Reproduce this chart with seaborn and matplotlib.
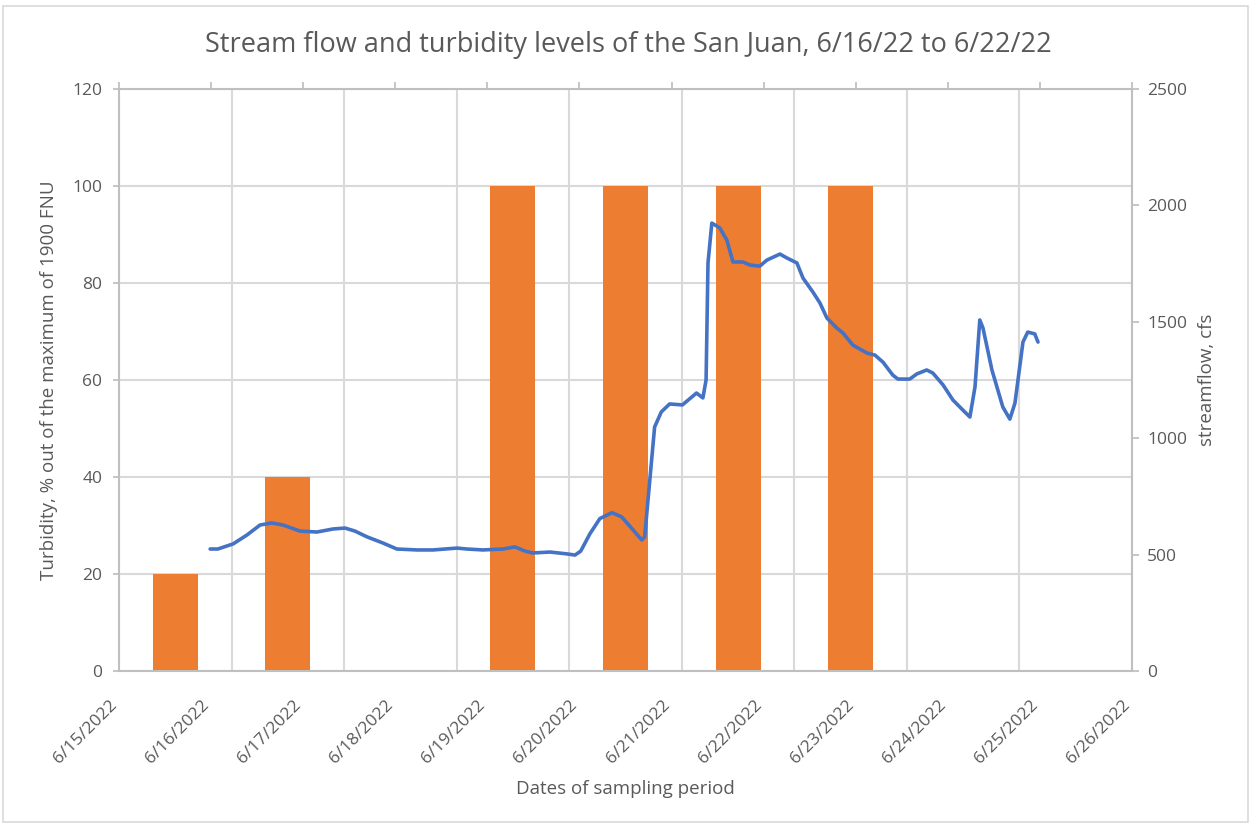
import matplotlib
matplotlib.use("Agg")
import matplotlib.pyplot as plt
import matplotlib.dates as mdates
from matplotlib.patches import Rectangle
from matplotlib.ticker import FuncFormatter, MultipleLocator
from matplotlib.transforms import ScaledTranslation
import pandas as pd
import seaborn as sns

# turbidity samples (% of max 1900 FNU), one bar per category slot
sample_days = ["6/16", "6/17", "6/18", "6/19", "6/20", "6/21", "6/22", "6/23", "6/24"]
turbidity = [20, 40, 0, 100, 100, 100, 100, 0, 0]

# streamflow readings
flow_times = [
    "2022-06-15 23:45", "2022-06-16 01:45", "2022-06-16 05:45", "2022-06-16 09:20",
    "2022-06-16 12:45", "2022-06-16 15:50", "2022-06-16 18:45", "2022-06-16 23:10",
    "2022-06-17 03:35", "2022-06-17 07:45", "2022-06-17 10:55", "2022-06-17 13:30",
    "2022-06-17 16:40", "2022-06-17 20:45", "2022-06-18 00:25", "2022-06-18 05:40",
    "2022-06-18 09:50", "2022-06-18 16:05", "2022-06-18 18:40", "2022-06-18 22:50",
    "2022-06-19 04:05", "2022-06-19 07:10", "2022-06-19 09:50", "2022-06-19 11:50",
    "2022-06-19 16:20", "2022-06-19 20:45", "2022-06-19 22:50", "2022-06-20 00:20",
    "2022-06-20 02:45", "2022-06-20 05:20", "2022-06-20 08:30", "2022-06-20 11:00",
    "2022-06-20 16:15", "2022-06-20 17:00", "2022-06-20 18:20", "2022-06-20 19:35",
    "2022-06-20 21:20", "2022-06-20 23:30", "2022-06-21 02:50", "2022-06-21 06:30",
    "2022-06-21 08:10", "2022-06-21 09:00", "2022-06-21 09:30", "2022-06-21 10:30",
    "2022-06-21 12:35", "2022-06-21 14:25", "2022-06-21 16:00", "2022-06-21 18:35",
    "2022-06-21 20:25", "2022-06-21 23:00", "2022-06-22 00:50", "2022-06-22 04:15",
    "2022-06-22 06:05", "2022-06-22 08:40", "2022-06-22 10:15", "2022-06-22 12:50",
    "2022-06-22 14:40", "2022-06-22 16:30", "2022-06-22 19:05", "2022-06-22 20:40",
    "2022-06-22 23:15", "2022-06-23 02:55", "2022-06-23 05:00", "2022-06-23 07:05",
    "2022-06-23 09:40", "2022-06-23 11:00", "2022-06-23 14:05", "2022-06-23 15:55",
    "2022-06-23 18:30", "2022-06-23 20:05", "2022-06-23 22:45", "2022-06-24 01:20",
    "2022-06-24 03:55", "2022-06-24 05:45", "2022-06-24 07:05", "2022-06-24 08:20",
    "2022-06-24 09:10", "2022-06-24 11:30", "2022-06-24 14:20", "2022-06-24 16:10",
    "2022-06-24 17:30", "2022-06-24 19:35", "2022-06-24 20:50", "2022-06-24 22:40",
    "2022-06-24 23:30",
]
streamflow = [
    524, 524, 546, 584,
    627, 636, 627, 601,
    597, 610, 614, 601,
    576, 550, 524, 520,
    520, 528, 524, 520,
    524, 533, 515, 507,
    511, 503, 498, 515,
    590, 655, 680, 662,
    563, 576, 820, 1048,
    1113, 1147, 1143, 1194,
    1173, 1250, 1753, 1924,
    1903, 1851, 1757, 1757,
    1744, 1739, 1765, 1791,
    1774, 1753, 1688, 1628,
    1581, 1516, 1473, 1452,
    1400, 1366, 1357, 1327,
    1271, 1254, 1254, 1276,
    1293, 1280, 1229, 1164,
    1121, 1091, 1220, 1508,
    1473, 1293, 1134, 1082,
    1151, 1413, 1456, 1448,
    1413,
]

GREY_TXT = "#595959"
GRID = "#D9D9D9"
SPINE = "#BFBFBF"

sns.set_theme(style="white")
plt.rcParams["font.family"] = ["Open Sans", "DejaVu Sans"]

bars = pd.DataFrame({"day": sample_days, "turbidity": turbidity})
flow = pd.DataFrame({"time": pd.to_datetime(flow_times), "cfs": streamflow})

fig = plt.figure(figsize=(12.51, 8.25), dpi=100)
rect = [119 / 1251, 1 - 671 / 825, (1132 - 119) / 1251, (671 - 89) / 825]

# --- bars on a category axis (primary, left) ---
ax = fig.add_axes(rect)
sns.barplot(data=bars, x="day", y="turbidity", order=sample_days, color="#ED7D31",
            saturation=1, width=0.4, linewidth=0, ax=ax, zorder=2)
ax.set_xlim(-0.5, len(sample_days) - 0.5)
ax.set_ylim(0, 120)
ax.yaxis.set_major_locator(MultipleLocator(20))
ax.set_xticks([i - 0.5 for i in range(len(sample_days) + 1)])
ax.set_xticklabels([])
ax.tick_params(axis="x", length=0)
ax.tick_params(axis="y", labelsize=12.5, labelcolor=GREY_TXT, length=4, color=SPINE,
               left=True, pad=8)
ax.grid(True, color=GRID, linewidth=1.5, zorder=0)
ax.set_axisbelow(True)
for side in ["left", "bottom"]:
    ax.spines[side].set_color(SPINE)
    ax.spines[side].set_linewidth(1.5)
ax.spines["top"].set_visible(False)
ax.spines["right"].set_visible(False)
ax.set_xlabel("Dates of sampling period", fontsize=13.5, color=GREY_TXT, labelpad=75)
ax.set_ylabel("Turbidity, % out of the maximum of 1900 FNU", fontsize=13.5,
              color=GREY_TXT, labelpad=10)

# --- streamflow on a date axis (secondary, right) ---
axl = fig.add_axes(rect)
axl.patch.set_visible(False)
sns.lineplot(data=flow, x="time", y="cfs", color="#4472C4", linewidth=2.6, ax=axl)
axl.set_xlim(pd.Timestamp("2022-06-15"), pd.Timestamp("2022-06-26"))
axl.set_ylim(0, 2500)
axl.yaxis.set_major_locator(MultipleLocator(500))
axl.yaxis.tick_right()
axl.yaxis.set_label_position("right")
axl.xaxis.set_major_locator(mdates.DayLocator())
axl.xaxis.set_major_formatter(
    FuncFormatter(lambda v, _: (lambda d: f"{d.month}/{d.day}/{d.year}")(mdates.num2date(v))))
axl.tick_params(axis="x", bottom=False, top=True, labelbottom=True, labeltop=False,
                length=5, color=SPINE, labelsize=12.5, labelcolor=GREY_TXT, pad=14)
axl.tick_params(axis="y", right=True, left=False, length=5, color=SPINE,
                labelsize=12.5, labelcolor=GREY_TXT, pad=6)
shift = ScaledTranslation(-0.10, 0.0, fig.dpi_scale_trans)
for lbl in axl.get_xticklabels():
    lbl.set_rotation(45)
    lbl.set_ha("right")
    lbl.set_va("top")
    lbl.set_rotation_mode("anchor")
    lbl.set_transform(lbl.get_transform() + shift)
axl.grid(False)
for side in ["right", "top"]:
    axl.spines[side].set_color(SPINE)
    axl.spines[side].set_linewidth(1.5)
axl.spines["left"].set_visible(False)
axl.spines["bottom"].set_visible(False)
axl.set_xlabel("")
axl.set_ylabel("streamflow, cfs", fontsize=13.5, color=GREY_TXT, labelpad=8)

fig.text(0.502, 1 - 45 / 825,
         "Stream flow and turbidity levels of the San Juan, 6/16/22 to 6/22/22",
         ha="center", va="center", fontsize=19.5, color=GREY_TXT)

# outer chart frame
fig.patches.append(Rectangle((3 / 1251, 3 / 825), 1 - 6 / 1251, 1 - 9 / 825,
                             transform=fig.transFigure, fill=False,
                             edgecolor=GRID, linewidth=1.2))

fig.savefig("out.png", dpi=100)
